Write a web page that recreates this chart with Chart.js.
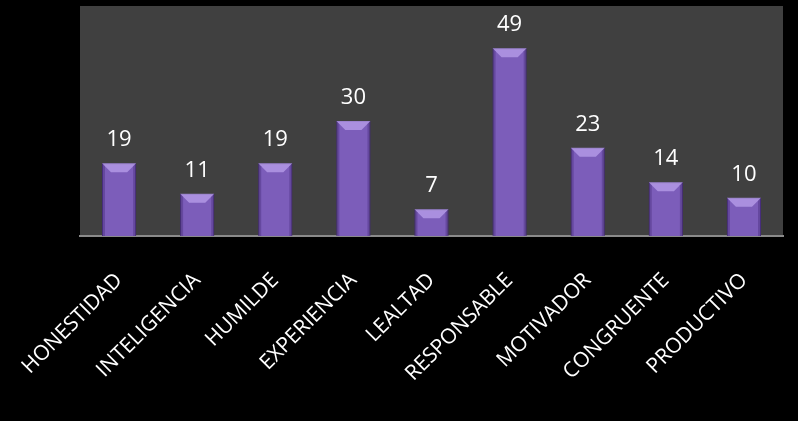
<!DOCTYPE html>
<html>
<head>
<meta charset="utf-8">
<script src="https://cdn.jsdelivr.net/npm/chart.js@4/dist/chart.umd.min.js"></script>
<style>
  html, body { margin: 0; padding: 0; background: #000; }
  #wrap { width: 798px; height: 421px; }
</style>
</head>
<body>
<div id="wrap"><canvas id="chart" width="798" height="421"></canvas></div>
<script>
// Categories and values
const categories = ['HONESTIDAD', 'INTELIGENCIA', 'HUMILDE', 'EXPERIENCIA', 'LEALTAD',
                    'RESPONSABLE', 'MOTIVADOR', 'CONGRUENTE', 'PRODUCTIVO'];
const values = [19, 11, 19, 30, 7, 49, 23, 14, 10];
const yMax = 60;

const ctx = document.getElementById('chart').getContext('2d');

// dark plot background
const plotBg = {
    id: 'plotBg',
    beforeDraw(chart) {
        const { ctx, chartArea: a } = chart;
        ctx.save();
        ctx.fillStyle = '#404040';
        ctx.fillRect(a.left, a.top, a.right - a.left, a.bottom - a.top);
        ctx.restore();
    }
};

// bevel look on each bar + value labels
const bevelAndLabels = {
    id: 'bevelAndLabels',
    afterDatasetsDraw(chart) {
        const ctx = chart.ctx;
        const meta = chart.getDatasetMeta(0);
        ctx.save();
        meta.data.forEach((bar, i) => {
            const w = bar.width;
            const l = bar.x - w / 2, r = bar.x + w / 2;
            const t = bar.y, b = bar.base;
            const bev = Math.min(9, (b - t) / 2);
            // top bevel
            ctx.fillStyle = 'rgba(190,165,240,0.7)';
            ctx.beginPath();
            ctx.moveTo(l, t); ctx.lineTo(r, t);
            ctx.lineTo(r - bev, t + bev); ctx.lineTo(l + bev, t + bev);
            ctx.closePath(); ctx.fill();
            // left / right bevels
            ctx.fillStyle = 'rgba(60,35,110,0.35)';
            ctx.beginPath();
            ctx.moveTo(l, t); ctx.lineTo(l + 3, t + 3); ctx.lineTo(l + 3, b); ctx.lineTo(l, b);
            ctx.closePath(); ctx.fill();
            ctx.beginPath();
            ctx.moveTo(r, t); ctx.lineTo(r - 3, t + 3); ctx.lineTo(r - 3, b); ctx.lineTo(r, b);
            ctx.closePath(); ctx.fill();
            // value label
            ctx.fillStyle = '#ffffff';
            ctx.font = '22px "Open Sans", sans-serif';
            ctx.textAlign = 'center';
            ctx.textBaseline = 'alphabetic';
            ctx.fillText(String(values[i]), bar.x, t - 17);
        });
        ctx.restore();
    }
};

const config = {
    type: 'bar',
    data: {
        labels: categories,
        datasets: [{
            data: values,
            backgroundColor: '#7c5dba',
            borderColor: '#4e3485',
            borderWidth: 1,
            categoryPercentage: 0.84,
            barPercentage: 0.52
        }]
    },
    options: {
        responsive: false,
        animation: false,
        layout: {
            padding: { left: 80, right: 15, top: 6, bottom: 0 }
        },
        plugins: {
            legend: { display: false },
            tooltip: { enabled: false }
        },
        scales: {
            x: {
                grid: { display: false, drawTicks: false },
                border: { color: '#8a8a8a', width: 2 },
                ticks: {
                    color: '#ffffff',
                    font: { family: 'Open Sans', size: 21 },
                    minRotation: 45,
                    maxRotation: 45,
                    padding: 32
                },
                afterFit(scale) {
                    scale.height = 185;
                    scale.paddingLeft = 0;
                    scale.paddingRight = 0;
                }
            },
            y: {
                display: false,
                min: 0,
                max: yMax
            }
        }
    },
    plugins: [plotBg, bevelAndLabels]
};

const chart = new Chart(ctx, config);
</script>
</body>
</html>
